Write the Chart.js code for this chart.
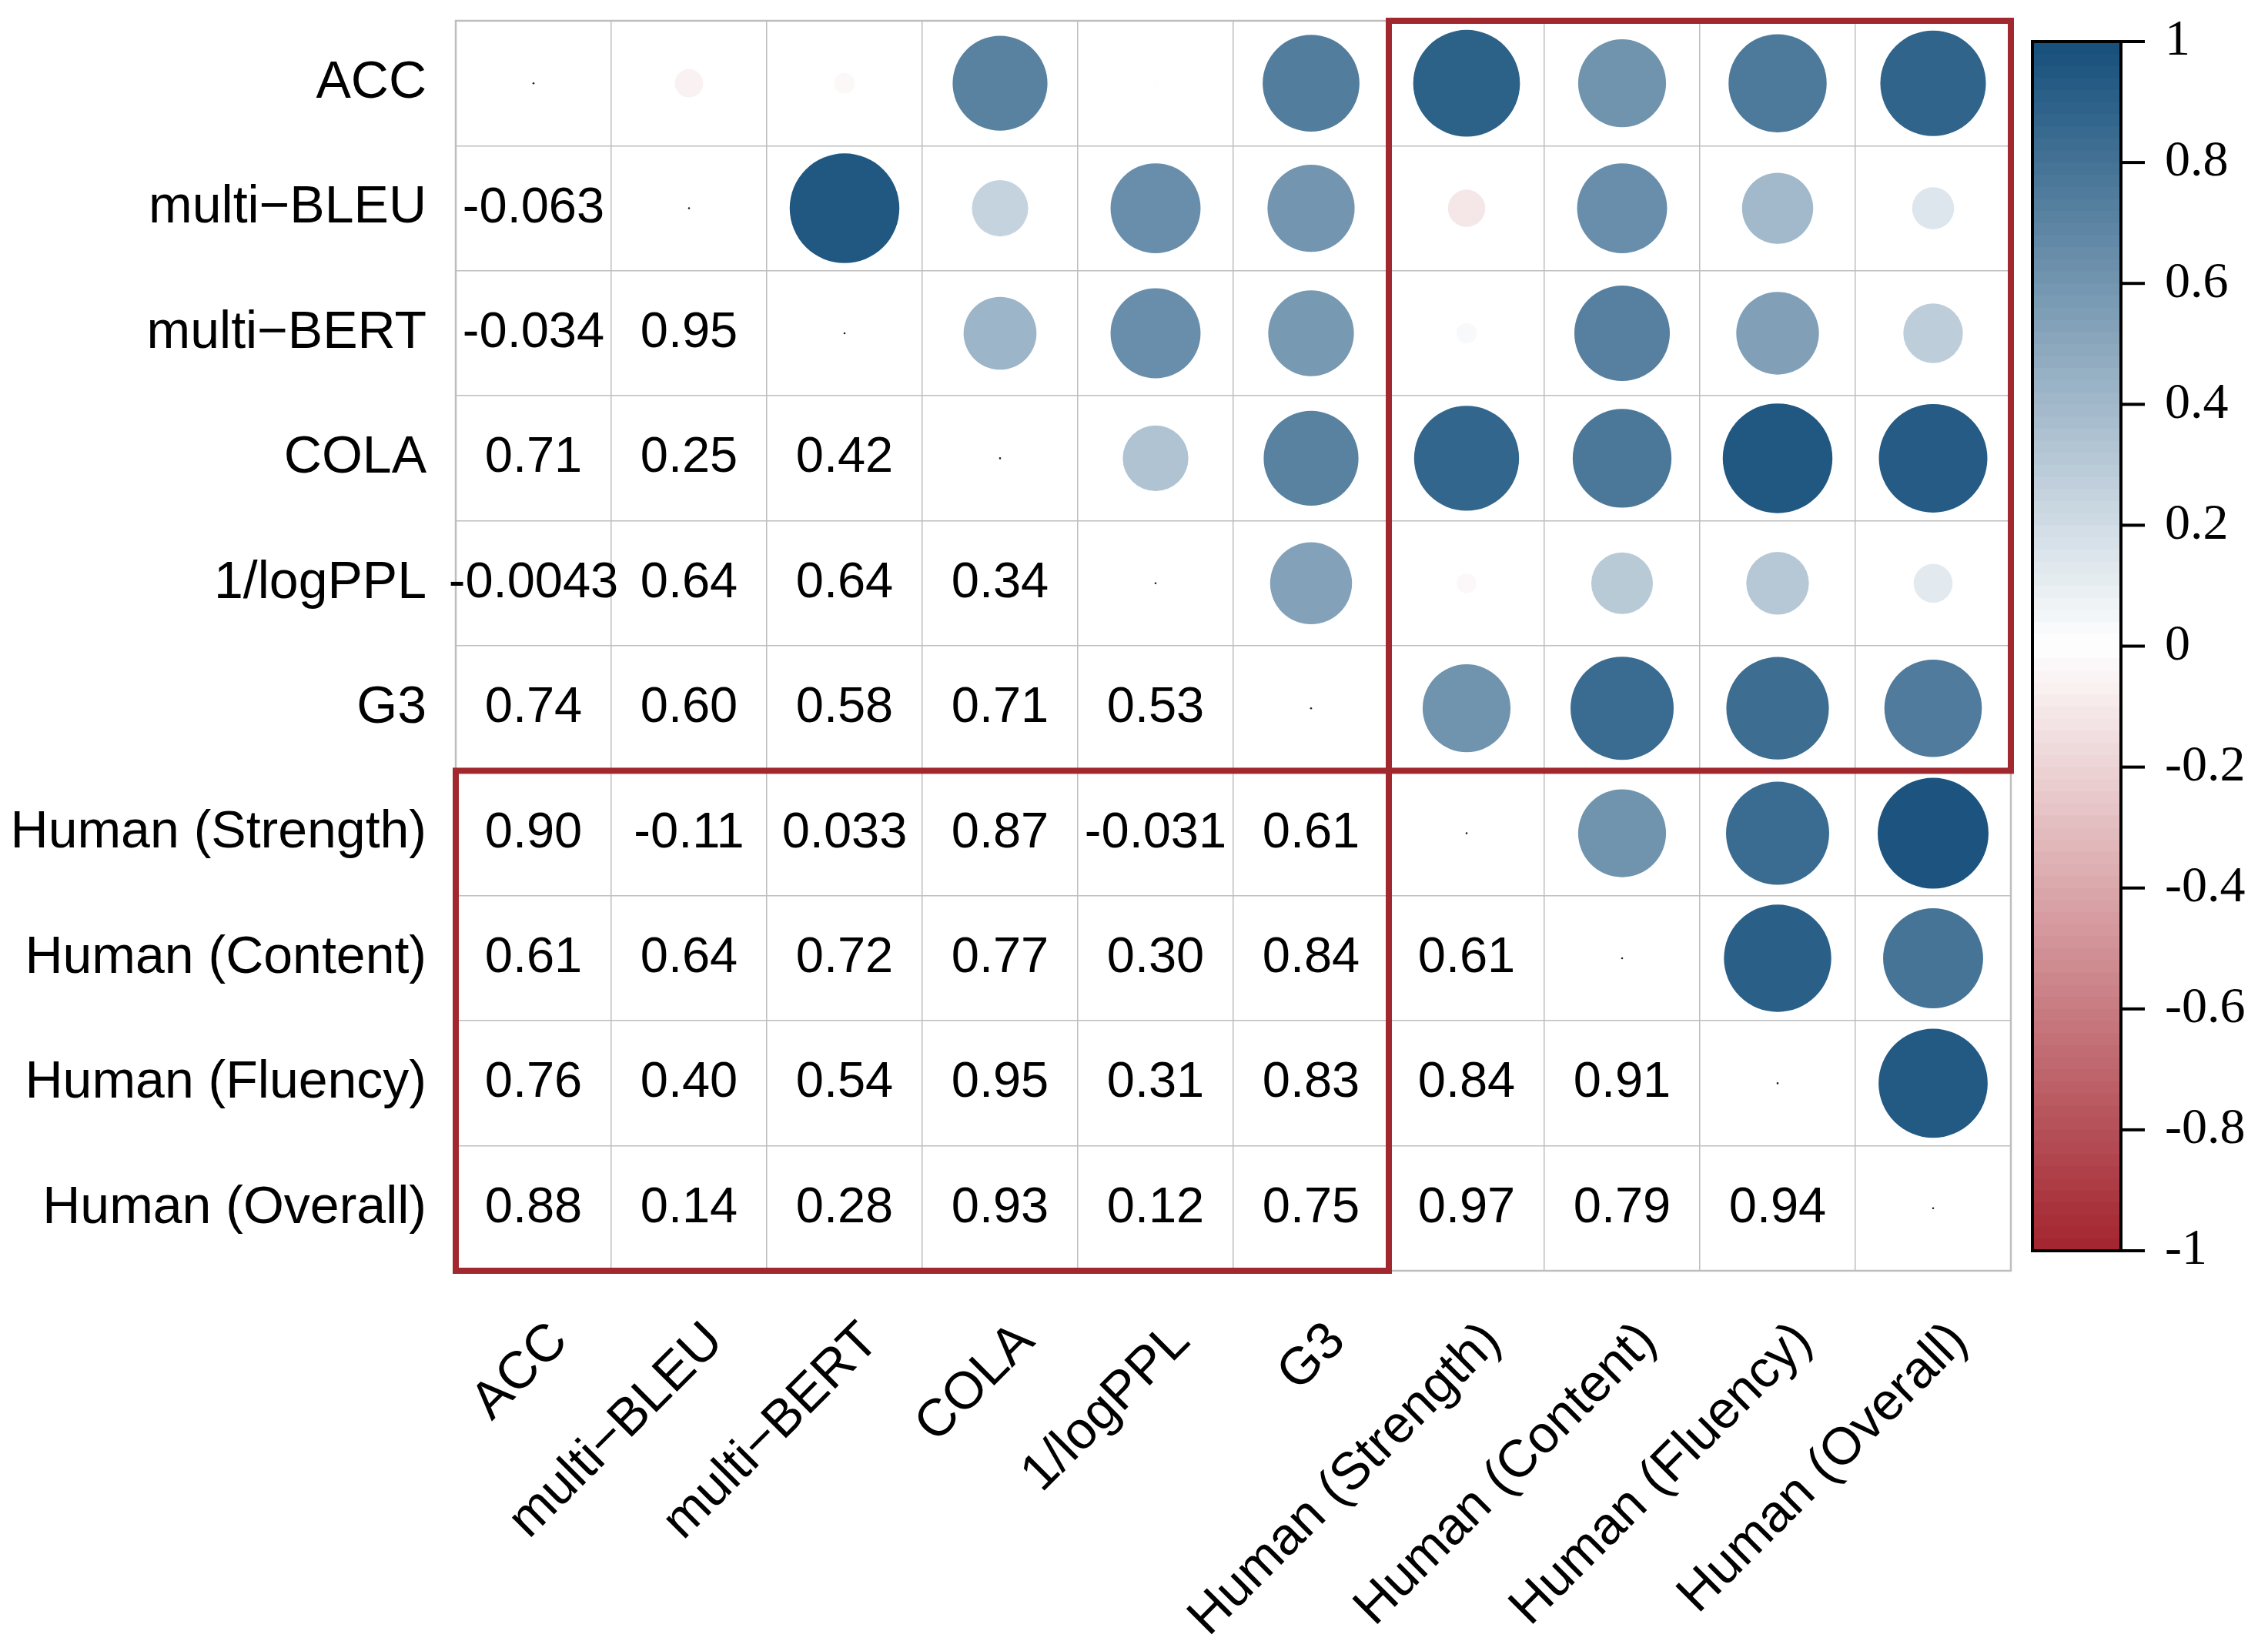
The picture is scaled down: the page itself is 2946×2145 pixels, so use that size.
<!DOCTYPE html>
<html>
<head>
<meta charset="utf-8">
<title>Correlation matrix</title>
<script src="https://cdn.jsdelivr.net/npm/chart.js@4.4.1/dist/chart.umd.min.js"></script>
<style>
  html, body { margin: 0; padding: 0; background: #ffffff; }
  #wrap { width: 2946px; height: 2145px; }
</style>
</head>
<body>
<div id="wrap"><canvas id="corrChart" width="2946" height="2145"></canvas></div>
<script>
// Nama variabel (urutan baris = urutan kolom)
const varNames = [
  "ACC", "multi\u2212BLEU", "multi\u2212BERT", "COLA", "1/logPPL", "G3",
  "Human (Strength)", "Human (Content)", "Human (Fluency)", "Human (Overall)"
];

// Segitiga bawah matriks korelasi, per baris
const rowMultiBLEU = [-0.063];
const rowMultiBERT = [-0.034, 0.95];
const rowCOLA = [0.71, 0.25, 0.42];
const rowLogPPL = [-0.0043, 0.64, 0.64, 0.34];
const rowG3 = [0.74, 0.60, 0.58, 0.71, 0.53];
const rowStrength = [0.90, -0.11, 0.033, 0.87, -0.031, 0.61];
const rowContent = [0.61, 0.64, 0.72, 0.77, 0.30, 0.84, 0.61];
const rowFluency = [0.76, 0.40, 0.54, 0.95, 0.31, 0.83, 0.84, 0.91];
const rowOverall = [0.88, 0.14, 0.28, 0.93, 0.12, 0.75, 0.97, 0.79, 0.94];

// Label skala warna
const colorbarTicks = [1, 0.8, 0.6, 0.4, 0.2, 0, -0.2, -0.4, -0.6, -0.8, -1];

const lowerRows = [[], rowMultiBLEU, rowMultiBERT, rowCOLA, rowLogPPL, rowG3,
  rowStrength, rowContent, rowFluency, rowOverall];

// Warna: merah (-1) -> putih (0) -> biru (1)
const blueEnd = [21, 79, 123];
const redEnd = [163, 36, 46];
function corrColor(v) {
  const t = Math.min(1, Math.abs(v));
  const end = v >= 0 ? blueEnd : redEnd;
  const c = end.map(e => Math.round(255 - t * (255 - e)));
  return `rgb(${c[0]}, ${c[1]}, ${c[2]})`;
}

// Titik lingkaran (segitiga atas + diagonal) dan angka (segitiga bawah)
const circlePoints = [];
const numberPoints = [];
for (let i = 0; i < varNames.length; i++) {
  circlePoints.push({ x: varNames[i], y: varNames[i], v: 0, diag: true });
  for (let j = 0; j < i; j++) {
    const v = lowerRows[i][j];
    numberPoints.push({ x: varNames[j], y: varNames[i], v });
    circlePoints.push({ x: varNames[i], y: varNames[j], v, diag: false });
  }
}

const sansFont = "'Liberation Sans', Arial, Helvetica, sans-serif";
const serifFont = "'Liberation Serif', 'Times New Roman', serif";
const gridGray = "#BEBEBE";
const boxRed = "#A2282F";

function cellHeight(chart) {
  const y = chart.scales.y;
  return Math.abs(y.getPixelForValue(1) - y.getPixelForValue(0));
}

const matrixExtras = {
  id: "matrixExtras",
  beforeDatasetsDraw(chart) {
    const { ctx, chartArea: a } = chart;
    ctx.save();
    ctx.strokeStyle = gridGray;
    ctx.lineWidth = 2.5;
    ctx.strokeRect(a.left, a.top, a.right - a.left, a.bottom - a.top);
    ctx.restore();
  },
  afterDatasetsDraw(chart) {
    const { ctx } = chart;
    const xs = chart.scales.x, ys = chart.scales.y;

    // Angka korelasi pada segitiga bawah
    const meta = chart.getDatasetMeta(1);
    ctx.save();
    ctx.fillStyle = "#000";
    ctx.font = `65px ${sansFont}`;
    ctx.textAlign = "center";
    ctx.textBaseline = "middle";
    meta.data.forEach((pt, k) => {
      const v = numberPoints[k].v;
      ctx.fillText(v.toPrecision(2), pt.x, pt.y);
    });
    ctx.restore();

    // Kotak merah
    const edgeX = i => xs.getPixelForValue(i - 0.5);
    const edgeY = i => ys.getPixelForValue(i - 0.5);
    ctx.save();
    ctx.strokeStyle = boxRed;
    ctx.lineWidth = 8;
    ctx.strokeRect(edgeX(6), edgeY(0), edgeX(10) - edgeX(6), edgeY(6) - edgeY(0));
    ctx.strokeRect(edgeX(0), edgeY(6), edgeX(6) - edgeX(0), edgeY(10) - edgeY(6));
    ctx.restore();
  },
  afterDraw(chart) {
    const { ctx, chartArea: a } = chart;
    const left = a.right + 28, right = a.right + 143;
    const top = a.top + 27, bottom = a.bottom - 26;
    const h = bottom - top;
    const bands = 100;

    ctx.save();
    for (let b = 0; b < bands; b++) {
      const v = 1 - (b + 0.5) * 2 / bands;
      ctx.fillStyle = corrColor(v);
      const y0 = top + b * h / bands;
      ctx.fillRect(left, y0, right - left, h / bands + 1);
    }
    ctx.strokeStyle = "#000";
    ctx.lineWidth = 4;
    ctx.strokeRect(left, top, right - left, h);

    ctx.font = `66px ${serifFont}`;
    ctx.fillStyle = "#000";
    ctx.textAlign = "left";
    ctx.textBaseline = "middle";
    colorbarTicks.forEach(v => {
      const y = top + (1 - v) / 2 * h;
      ctx.beginPath();
      ctx.moveTo(right, y);
      ctx.lineTo(right + 31, y);
      ctx.stroke();
      ctx.fillText(String(v), right + 57, y);
    });
    ctx.restore();
  }
};

const chart = new Chart(document.getElementById("corrChart"), {
  type: "scatter",
  data: {
    datasets: [
      {
        label: "circles",
        data: circlePoints,
        pointRadius: c => c.raw.diag ? 1.3 : 0.45 * Math.sqrt(Math.abs(c.raw.v)) * cellHeight(c.chart),
        pointHoverRadius: c => c.raw.diag ? 1.3 : 0.45 * Math.sqrt(Math.abs(c.raw.v)) * cellHeight(c.chart),
        pointBackgroundColor: c => c.raw.diag ? "#222222" : corrColor(c.raw.v),
        pointBorderWidth: 0
      },
      {
        label: "numbers",
        data: numberPoints,
        pointRadius: 0,
        pointHoverRadius: 0
      }
    ]
  },
  options: {
    responsive: false,
    animation: false,
    events: [],
    layout: { padding: { top: 27, right: 334, bottom: 0, left: 0 } },
    plugins: {
      legend: { display: false },
      tooltip: { enabled: false }
    },
    scales: {
      x: {
        type: "category",
        labels: varNames,
        position: "bottom",
        offset: true,
        grid: { offset: true, color: gridGray, lineWidth: 1.5, drawTicks: false },
        border: { display: false },
        ticks: {
          autoSkip: false,
          minRotation: 45,
          maxRotation: 45,
          labelOffset: 34,
          padding: 52,
          color: "#000",
          font: { family: sansFont, size: 68 }
        },
        afterFit(scale) {
          scale.height = 494;
          scale.paddingLeft = 0;
          scale.paddingRight = 0;
        }
      },
      y: {
        type: "category",
        labels: varNames,
        position: "left",
        offset: true,
        grid: { offset: true, color: gridGray, lineWidth: 1.5, drawTicks: false },
        border: { display: false },
        ticks: {
          autoSkip: false,
          padding: 38,
          color: "#000",
          font: { family: sansFont, size: 68 }
        },
        afterFit(scale) {
          scale.width = 592;
          scale.paddingTop = 0;
          scale.paddingBottom = 0;
        }
      }
    }
  },
  plugins: [matrixExtras]
});
</script>
</body>
</html>
